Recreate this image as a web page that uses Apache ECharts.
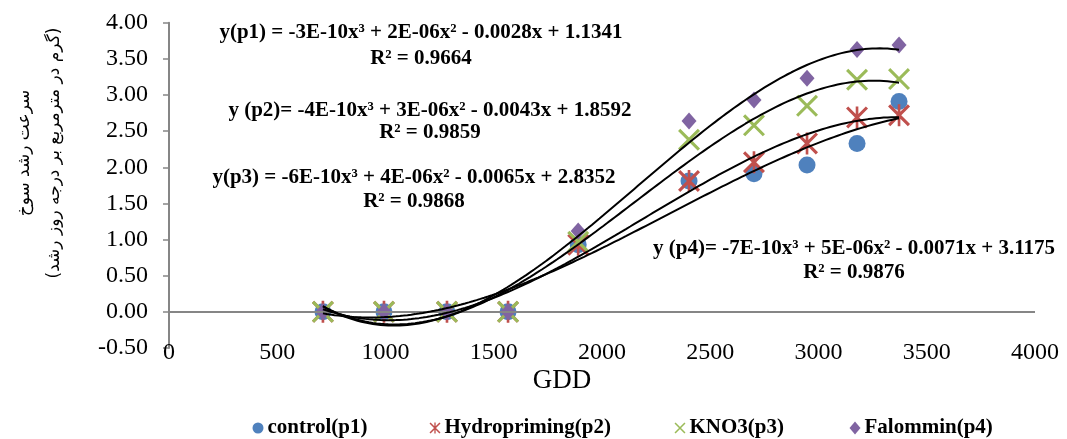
<!DOCTYPE html>
<html><head><meta charset="utf-8">
<script src="https://cdn.jsdelivr.net/npm/echarts@6/dist/echarts.min.js"></script>
<style>html,body{margin:0;padding:0;background:#fff}#c{width:1067px;height:439px}</style>
</head><body><div id="c"></div><script>
// ---- data ----
const gdd       = [711, 993, 1284, 1566, 1890, 2402, 2702, 2947, 3178, 3372];
const control   = [0, 0, 0, 0, 0.93, 1.81, 1.91, 2.03, 2.33, 2.91];
const hydro     = [0, 0, 0, 0, 0.93, 1.81, 2.07, 2.33, 2.69, 2.72];
const kno3      = [0, 0, 0, 0, 0.97, 2.38, 2.58, 2.85, 3.21, 3.22];
const falommin  = [0, 0, 0, 0, 1.12, 2.64, 2.93, 3.23, 3.63, 3.69];
const seriesNames = ['control(p1)', 'Hydropriming(p2)', 'KNO3(p3)', 'Falommin(p4)'];
const equations = [
  ['y(p1) = -3E-10x³ + 2E-06x² - 0.0028x + 1.1341', 'R² = 0.9664'],
  ['y (p2)= -4E-10x³ + 3E-06x² - 0.0043x + 1.8592', 'R² = 0.9859'],
  ['y(p3) = -6E-10x³ + 4E-06x² - 0.0065x + 2.8352', 'R² = 0.9868'],
  ['y (p4)= -7E-10x³ + 5E-06x² - 0.0071x + 3.1175', 'R² = 0.9876']
];
const yTitle = 'سرعت رشد سوخ\n(گرم در مترمربع بر درجه روز رشد)';
const xTitle = 'GDD';

// ---- cubic least-squares trendline (as the spreadsheet did) ----
function cubicFit(xs, ys) {
  const n = 4, A = [];
  for (let r = 0; r < n; r++) A.push(new Array(n + 1).fill(0));
  xs.forEach((x, i) => {
    const t = x / 1000, p = [1, t, t * t, t * t * t];
    for (let r = 0; r < n; r++) { for (let c = 0; c < n; c++) A[r][c] += p[r] * p[c]; A[r][n] += p[r] * ys[i]; }
  });
  for (let k = 0; k < n; k++) {
    let piv = k; for (let r = k + 1; r < n; r++) if (Math.abs(A[r][k]) > Math.abs(A[piv][k])) piv = r;
    [A[k], A[piv]] = [A[piv], A[k]];
    for (let r = 0; r < n; r++) { if (r === k) continue; const f = A[r][k] / A[k][k]; for (let c = k; c <= n; c++) A[r][c] -= f * A[k][c]; }
  }
  const b = A.map((row, i) => row[n] / row[i]);
  return x => { const t = x / 1000; return b[0] + b[1] * t + b[2] * t * t + b[3] * t * t * t; };
}
function trend(ys) {
  const f = cubicFit(gdd, ys), x0 = gdd[0], x1 = gdd[gdd.length - 1], out = [];
  for (let i = 0; i <= 150; i++) { const x = x0 + (x1 - x0) * i / 150; out.push([x, f(x)]); }
  return out;
}
const pair = ys => gdd.map((x, i) => [x, ys[i]]);

const XPATH = 'path://M0 10 L10 0 L100 90 L90 100 Z M90 0 L100 10 L10 100 L0 90 Z';
const STARPATH = 'path://M0 10 L10 0 L100 90 L90 100 Z M90 0 L100 10 L10 100 L0 90 Z M44 0 L56 0 L56 100 L44 100 Z';
const serif = 'Liberation Serif';
const symbols = ['circle', STARPATH, XPATH, 'diamond'];
const symSizes = [17, 22, 22, [15, 17]];
const colors = ['#4F81BD', '#C0504D', '#9BBB59', '#8064A2'];
const legendIconX = [258, 435, 680, 855];

const scatter = (i, ys) => ({
  name: seriesNames[i], type: 'scatter', data: pair(ys), symbol: symbols[i], symbolSize: symSizes[i], z: 3,
  itemStyle: { color: colors[i], opacity: 1 }, emphasis: { disabled: true }
});
const tline = ys => ({
  type: 'line', data: trend(ys), showSymbol: false, symbol: 'none', z: 5, silent: true,
  lineStyle: { color: '#000', width: 2 }, emphasis: { disabled: true }
});

const graphics = [];
const eqPos = [[421, 33, 59], [430, 111, 133], [414, 178, 202], [854, 249, 273]];
equations.forEach((e, i) => {
  const [cx, y1, y2] = eqPos[i];
  graphics.push({ type: 'text', x: cx, y: y1, z: 10, style: { text: e[0], font: 'bold 21px "Liberation Serif"', fill: '#000', align: 'center', verticalAlign: 'middle' } });
  graphics.push({ type: 'text', x: cx, y: y2, z: 10, style: { text: e[1], font: 'bold 21px "Liberation Serif"', fill: '#000', align: 'center', verticalAlign: 'middle' } });
});
graphics.push({ type: 'text', x: 40, y: 153, rotation: Math.PI / 2, z: 10,
  style: { text: yTitle, font: '17px "DejaVu Sans"', fill: '#000', align: 'center', verticalAlign: 'middle', lineHeight: 30 } });
graphics.push({ type: 'text', x: 562, y: 381, z: 10,
  style: { text: xTitle, font: '27px "Liberation Serif"', fill: '#000', align: 'center', verticalAlign: 'middle' } });

const legends = seriesNames.map((nm, i) => ({
  data: [nm], left: legendIconX[i] - 5.5, top: 417.5, padding: 0,
  itemWidth: 11, itemHeight: 13, itemGap: 5, selectedMode: false,
  textStyle: { fontFamily: serif, fontWeight: 'bold', fontSize: 21, color: '#000', padding: [0, 0, 0, -1] }
}));

const chart = echarts.init(document.getElementById('c'), null, { renderer: 'canvas' });
chart.setOption({
  animation: false,
  backgroundColor: '#fff',
  grid: { left: 169, right: 32, top: 22.7, bottom: 91, containLabel: false },
  xAxis: {
    type: 'value', min: 0, max: 4000, interval: 500,
    axisLine: { show: false }, axisTick: { show: false }, splitLine: { show: false },
    axisLabel: { fontFamily: serif, fontSize: 24, color: '#000', margin: 5, verticalAlign: 'middle', formatter: v => String(v) }
  },
  yAxis: {
    type: 'value', min: -0.5, max: 4, interval: 0.5,
    axisLine: { show: true, onZero: false, lineStyle: { color: '#868686', width: 2 } },
    axisTick: { show: true, inside: false, length: 6, lineStyle: { color: '#868686', width: 1.5 } },
    splitLine: { show: false },
    axisLabel: { fontFamily: serif, fontSize: 24, color: '#000', margin: 21, formatter: v => v.toFixed(2) }
  },
  legend: legends,
  graphic: graphics,
  series: [
    { type: 'line', data: [], z: 1, silent: true,
      markLine: { silent: true, symbol: ['none', 'none'], label: { show: false }, animation: false,
        lineStyle: { color: '#868686', width: 2, type: 'solid' }, emphasis: { disabled: true }, data: [{ yAxis: 0 }] } },
    scatter(0, control), scatter(1, hydro), scatter(2, kno3), scatter(3, falommin),
    tline(control), tline(hydro), tline(kno3), tline(falommin)
  ]
});
</script></body></html>
